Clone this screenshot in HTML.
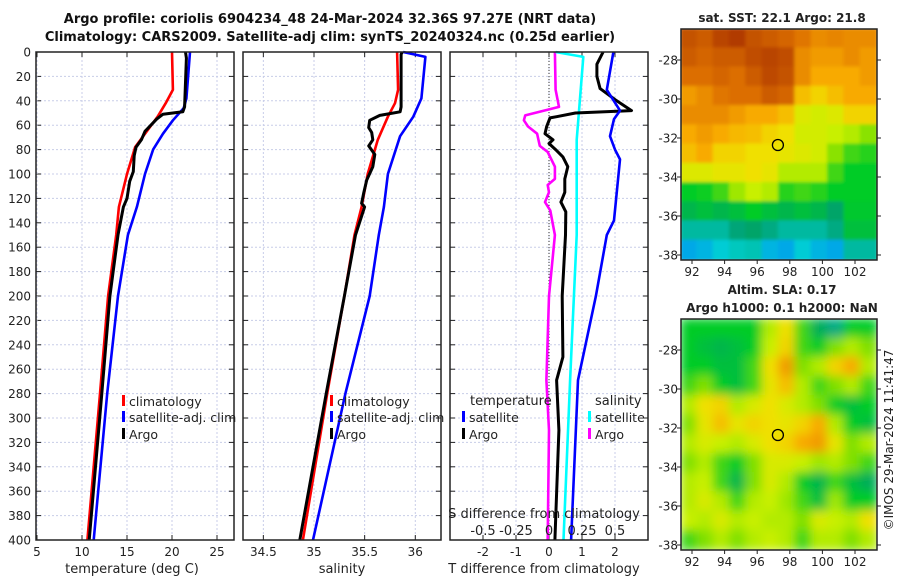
<!DOCTYPE html>
<html><head><meta charset="utf-8"><style>
body{margin:0;background:#fff;}
svg{display:block;font-family:"DejaVu Sans","Liberation Sans",sans-serif;}
</style></head><body>
<svg id="c" width="900" height="580" viewBox="0 0 900 580" xmlns="http://www.w3.org/2000/svg">
<defs>
<filter id="blur1" x="0" y="0" width="1" height="1"><feGaussianBlur stdDeviation="1.5"/></filter>
<filter id="blur2" x="0" y="0" width="1" height="1"><feGaussianBlur stdDeviation="5"/></filter>
<clipPath id="clipTop"><rect x="681" y="29" width="196" height="231"/></clipPath>
<clipPath id="clipBot"><rect x="681" y="319" width="196" height="231"/></clipPath>
</defs>
<text x="330" y="23" text-anchor="middle" font-size="13" font-weight="bold" fill="#111">Argo profile: coriolis 6904234_48 24-Mar-2024 32.36S 97.27E (NRT data)</text>
<text x="330" y="41" text-anchor="middle" font-size="13" font-weight="bold" fill="#111">Climatology: CARS2009. Satellite-adj clim: synTS_20240324.nc (0.25d earlier)</text>
<g id="plots"></g>
</svg>
<script>
// ---------- data ----------
var depthTicks=[0,20,40,60,80,100,120,140,160,180,200,220,240,260,280,300,320,340,360,380,400];
var tTicks=[5,10,15,20,25];
var sTicks=[34.5,35,35.5,36];
var dTTicks=[-2,-1,0,1,2];
var dSTicks=[-0.5,-0.25,0,0.25,0.5];
var dSTickLabels=["-0.5","-0.25","0","0.25","0.5"];

var climTdepth=[0,31,42,53,64,78,100,127,150,200,280,400];
var climT=[20.0,20.1,19.3,18.4,17.3,15.9,15.0,14.1,13.8,12.9,12.0,10.6];
var satTdepth=[0,38,46,56,67,80,100,127,150,200,280,400];
var satT=[22.0,21.6,21.3,20.1,19.0,17.9,17.0,16.1,15.1,14.0,12.8,11.3];
var argoTdepth=[0,5,45,49,51,55,65,72,78,85,98,106,120,127,150,200,280,400];
var argoT=[21.5,21.6,21.4,21.2,19.0,18.3,17.0,16.6,16.0,15.8,15.7,15.3,15.0,14.6,14.0,13.1,12.2,10.8];

var climSdepth=[0,31,42,53,72,100,127,150,200,280,400];
var climS=[35.82,35.83,35.80,35.73,35.63,35.53,35.47,35.40,35.30,35.13,34.89];
var satSdepth=[0,4,38,53,69,100,127,150,200,280,400];
var satS=[35.88,36.10,36.06,35.98,35.85,35.73,35.69,35.64,35.55,35.31,34.99];
var argoSdepth=[0,2,45,49,52,56,62,66,72,77,84,94,105,116,124,127,150,200,280,400];
var argoS=[35.87,35.86,35.86,35.85,35.65,35.55,35.54,35.57,35.58,35.54,35.60,35.58,35.52,35.49,35.47,35.50,35.41,35.30,35.12,34.86];

var dTsatDepth=[0,31,48,55,69,80,88,138,150,200,269,400];
var dTsat=[1.95,1.75,2.15,1.97,1.85,2.0,2.15,1.97,1.75,1.42,0.88,0.67];
var dTargoDepth=[0,10,20,30,39,48,50,53,54,61,67,72,75,80,86,94,104,115,123,131,150,200,250,269,310,400];
var dTargo=[1.64,1.45,1.45,1.55,2.0,2.5,0.8,0.23,0.03,-0.07,-0.12,0.12,0.0,0.2,0.42,0.57,0.48,0.48,0.36,0.51,0.5,0.4,0.42,0.23,0.3,0.18];
var dSsatDepth=[0,4,31,72,150,269,400];
var dSsat=[0.05,0.26,0.24,0.21,0.21,0.16,0.11];
var dSargoDepth=[0,31,45,52,56,61,67,77,82,94,104,109,115,123,130,150,200,269,310,400];
var dSargo=[0.045,0.05,0.076,-0.18,-0.19,-0.16,-0.09,-0.07,-0.01,0.045,0.045,-0.01,0.0,-0.03,0.01,0.045,0.0,-0.02,0.0,-0.01];

var lonTicks=[92,94,96,98,100,102];
var latTicks=[-28,-30,-32,-34,-36,-38];
var floatLon=97.27, floatLat=-32.36;
var sstGrid=[
[.92,.9,.95,.97,.92,.9,.88,.85,.82,.83,.82,.82],
[.9,.88,.9,.9,.93,.95,.93,.82,.8,.8,.82,.8],
[.86,.86,.88,.86,.9,.94,.92,.82,.78,.78,.78,.8],
[.8,.82,.85,.86,.86,.9,.88,.75,.72,.75,.78,.78],
[.82,.82,.82,.8,.78,.78,.75,.66,.64,.66,.72,.72],
[.78,.8,.78,.76,.75,.72,.7,.64,.64,.62,.6,.56],
[.75,.78,.72,.72,.7,.7,.68,.66,.64,.56,.5,.48],
[.66,.66,.68,.68,.7,.68,.6,.6,.6,.5,.45,.45],
[.45,.46,.5,.58,.62,.6,.48,.5,.48,.45,.45,.45],
[.4,.42,.4,.42,.45,.42,.4,.42,.4,.36,.44,.44],
[.3,.3,.3,.34,.36,.33,.3,.3,.3,.33,.42,.42],
[.18,.2,.24,.27,.28,.2,.18,.24,.2,.18,.3,.3]];
var slaGrid=[
[.45,.45,.45,.45,.45,.6,.7,.5,.38,.33,.45,.45],
[.45,.42,.4,.42,.45,.62,.72,.5,.45,.55,.6,.55],
[.45,.45,.42,.42,.5,.7,.8,.55,.6,.72,.78,.6],
[.5,.55,.45,.42,.5,.68,.75,.6,.5,.55,.6,.5],
[.6,.7,.72,.6,.65,.7,.65,.6,.55,.45,.42,.45],
[.55,.68,.75,.68,.72,.7,.68,.72,.78,.6,.45,.42],
[.6,.65,.62,.6,.65,.7,.72,.78,.8,.68,.55,.6],
[.55,.6,.5,.45,.55,.65,.65,.62,.58,.6,.55,.5],
[.6,.62,.5,.4,.55,.65,.6,.45,.4,.5,.42,.38],
[.6,.65,.6,.5,.6,.62,.58,.5,.42,.58,.45,.45],
[.62,.6,.65,.6,.62,.6,.6,.55,.65,.62,.6,.7],
[.5,.55,.6,.55,.6,.62,.6,.5,.6,.6,.55,.6]];

// ---------- helpers ----------
var NS="http://www.w3.org/2000/svg";
var root=document.getElementById('plots');
function mk(tag,attrs,parent){var e=document.createElementNS(NS,tag);for(var k in attrs)e.setAttribute(k,attrs[k]);(parent||root).appendChild(e);return e;}
var top0=52, bot=540;
function yD(d){return top0+d*(bot-top0)/400;}
var panels=[{x0:36,x1:234},{x0:243,x1:441},{x0:450,x1:648}];
function xT(t){return 37+(t-5)*9;}
function xS(s){return 314+(s-35)*101.3;}
function xDT(v){return 549+v*33;}
function xDS(v){return 549+v*132;}

function gridPanel(p,xticks,xf,name){
  var g=mk('g',{});
  
  
  depthTicks.forEach(function(d){
    var l=mk('line',{x1:p.x0,x2:p.x1,y1:yD(d),y2:yD(d),stroke:'#c8cde8','stroke-width':1,'stroke-dasharray':'2,2'},g);
    
    
    var t1=mk('line',{x1:p.x0,x2:p.x0+5,y1:yD(d),y2:yD(d),stroke:'#222','stroke-width':1},g);
    
    
    var t2=mk('line',{x1:p.x1-5,x2:p.x1,y1:yD(d),y2:yD(d),stroke:'#222','stroke-width':1},g);
    
    
  });
  xticks.forEach(function(v){
    var x=xf(v);
    var l=mk('line',{x1:x,x2:x,y1:top0,y2:bot,stroke:'#c8cde8','stroke-width':1,'stroke-dasharray':'2,2'},g);
    
    
    var t1=mk('line',{x1:x,x2:x,y1:top0,y2:top0+5,stroke:'#222','stroke-width':1},g);
    
    
    var t2=mk('line',{x1:x,x2:x,y1:bot-5,y2:bot,stroke:'#222','stroke-width':1},g);
    
    
  });
  return g;
}
function frame(p,name){
  var r=mk('rect',{x:p.x0,y:top0,width:p.x1-p.x0,height:bot-top0,fill:'none',stroke:'#222','stroke-width':1.5});
  
  
}
function line(vals,depths,xf,color,name,w){
  var pts=vals.map(function(v,i){return xf(v).toFixed(1)+','+yD(depths[i]).toFixed(1);}).join(' ');
  var pl=mk('polyline',{points:pts,fill:'none',stroke:color,'stroke-width':w||2.6,'stroke-linejoin':'round'});
  
  
}
function txt(x,y,s,opts,name){
  var t=mk('text',Object.assign({x:x,y:y,'font-size':12,fill:'#222'},opts||{}));
  t.textContent=s;
  
  
  return t;
}
function legendEntry(x,y,color,label,name){
  var r=mk('rect',{x:x,y:y-6,width:3,height:11,fill:color});
  
  
  txt(x+7,y+5,label,{'font-size':12.5},name);
}

// ---------- panel 1 ----------
gridPanel(panels[0],tTicks,xT,'temperature-grid');
line(climT,climTdepth,xT,'#ff0000','climatology-temperature-line');
line(satT,satTdepth,xT,'#0000ff','satellite-temperature-line');
line(argoT,argoTdepth,xT,'#000000','argo-temperature-line',3);
frame(panels[0],'temperature-axes');
depthTicks.forEach(function(d){txt(31,yD(d)+4.5,String(d),{'text-anchor':'end'},'depth-tick-label');});
tTicks.forEach(function(v){txt(xT(v),556,String(v),{'text-anchor':'middle'},'temperature-tick-label');});
txt(132,573,'temperature (deg C)',{'text-anchor':'middle','font-size':13},'temperature-axis-title');
legendEntry(122,401,'#ff0000','climatology','legend-climatology');
legendEntry(122,417,'#0000ff','satellite-adj. clim','legend-satellite-adj-clim');
legendEntry(122,434,'#000000','Argo','legend-argo');

// ---------- panel 2 ----------
gridPanel(panels[1],sTicks,xS,'salinity-grid');
line(climS,climSdepth,xS,'#ff0000','climatology-salinity-line');
line(satS,satSdepth,xS,'#0000ff','satellite-salinity-line');
line(argoS,argoSdepth,xS,'#000000','argo-salinity-line',3);
frame(panels[1],'salinity-axes');
sTicks.forEach(function(v){txt(xS(v),556,String(v),{'text-anchor':'middle'},'salinity-tick-label');});
txt(342,573,'salinity',{'text-anchor':'middle','font-size':13},'salinity-axis-title');
legendEntry(330,401,'#ff0000','climatology','legend2-climatology');
legendEntry(330,417,'#0000ff','satellite-adj. clim','legend2-satellite-adj-clim');
legendEntry(330,434,'#000000','Argo','legend2-argo');

// ---------- panel 3 ----------
gridPanel(panels[2],dTTicks,xDT,'difference-grid');
var zl=mk('line',{x1:xDT(0),x2:xDT(0),y1:top0,y2:bot,stroke:'#333','stroke-width':1,'stroke-dasharray':'1,2'});


line(dSargo,dSargoDepth,xDS,'#ff00ff','argo-salinity-difference-line');
line(dSsat,dSsatDepth,xDS,'#00ffff','satellite-salinity-difference-line');
line(dTargo,dTargoDepth,xDT,'#000000','argo-temperature-difference-line',3);
line(dTsat,dTsatDepth,xDT,'#0000ff','satellite-temperature-difference-line');
frame(panels[2],'difference-axes');
dTTicks.forEach(function(v){txt(xDT(v),556,String(v),{'text-anchor':'middle'},'t-difference-tick-label');});
txt(544,573,'T difference from climatology',{'text-anchor':'middle','font-size':13},'t-difference-axis-title');
txt(544,518,'S difference from climatology',{'text-anchor':'middle','font-size':13},'s-difference-axis-title');
dSTicks.forEach(function(v,i){txt(xDS(v),535,dSTickLabels[i],{'text-anchor':'middle','font-size':13},'s-difference-tick-label');});
txt(470,405,'temperature',{'font-size':13},'legend-temperature-heading');
legendEntry(462,417,'#0000ff','satellite','legend-temperature-satellite');
legendEntry(462,434,'#000000','Argo','legend-temperature-argo');
txt(595,405,'salinity',{'font-size':13},'legend-salinity-heading');
legendEntry(588,417,'#00ffff','satellite','legend-salinity-satellite');
legendEntry(588,434,'#ff00ff','Argo','legend-salinity-argo');

// ---------- maps ----------
var stops=[[0,[0,48,255]],[0.15,[0,150,240]],[0.25,[0,210,210]],[0.35,[0,160,110]],[0.45,[0,204,40]],[0.55,[128,224,0]],[0.62,[200,240,0]],[0.7,[240,224,0]],[0.78,[248,170,0]],[0.86,[220,110,0]],[1,[165,45,0]]];
function cmap(v){
  for(var i=1;i<stops.length;i++){if(v<=stops[i][0]){var a=stops[i-1],b=stops[i],f=(v-a[0])/(b[0]-a[0]);
    return 'rgb('+[0,1,2].map(function(k){return Math.round(a[1][k]+f*(b[1][k]-a[1][k]));}).join(',')+')';}}
  return 'rgb(165,45,0)';
}
function map(grid,y0,y1,filt,clip,name,titles){
  var x0=681,x1=877;
  var lonX=function(lon){return 692+(lon-92)*16.3;};
  var latY=function(lat){return y0+31+(-28-lat)*19.5;};
  var g=mk('g',{'clip-path':'url(#'+clip+')'});
  
  
  var gi=mk('g',{filter:'url(#'+filt+')'},g);
  var rows=grid.length, cols=grid[0].length, cw=(x1-x0)/cols, ch=(y1-y0)/rows;
  mk('rect',{x:x0,y:y0,width:x1-x0,height:y1-y0,fill:cmap(grid[rows-1][0])},gi);
  grid.forEach(function(row,r){row.forEach(function(v,c){
    var cell=mk('rect',{x:(x0+c*cw-1).toFixed(1),y:(y0+r*ch-1).toFixed(1),width:(cw+2).toFixed(1),height:(ch+2).toFixed(1),fill:cmap(v)},gi);
    
    
  });});
  var fr=mk('rect',{x:x0,y:y0,width:x1-x0,height:y1-y0,fill:'none',stroke:'#222','stroke-width':1.5});
  
  
  lonTicks.forEach(function(l){
    var t=mk('line',{x1:lonX(l),x2:lonX(l),y1:y1,y2:y1+4,stroke:'#222'});
    
    
    txt(lonX(l),y1+16,String(l),{'text-anchor':'middle'},'lon-tick-label');
  });
  latTicks.forEach(function(l){
    var t=mk('line',{x1:x0-4,x2:x0,y1:latY(l),y2:latY(l),stroke:'#222'});
    
    
    var t2=mk('line',{x1:x1,x2:x1+4,y1:latY(l),y2:latY(l),stroke:'#222'});
    
    
    txt(x0-3,latY(l)+4.5,String(l),{'text-anchor':'end'},'lat-tick-label');
  });
  var c=mk('circle',{cx:lonX(floatLon),cy:latY(floatLat),r:5.5,fill:'none',stroke:'#000','stroke-width':1.3});
  
  
  titles.forEach(function(t){txt(782,t[1],t[0],{'text-anchor':'middle','font-weight':'bold'},name+'-title');});
}
map(sstGrid,29,260,'blur1','clipTop','sst-map',[['sat. SST: 22.1 Argo: 21.8',22]]);
map(slaGrid,319,550,'blur2','clipBot','sla-map',[['Altim. SLA: 0.17',294],['Argo h1000: 0.1 h2000: NaN',312]]);
var cr=txt(0,0,'©IMOS 29-Mar-2024 11:41:47',{'text-anchor':'middle',transform:'translate(893,440) rotate(-90)'},'copyright-timestamp');
</script>
</body></html>
